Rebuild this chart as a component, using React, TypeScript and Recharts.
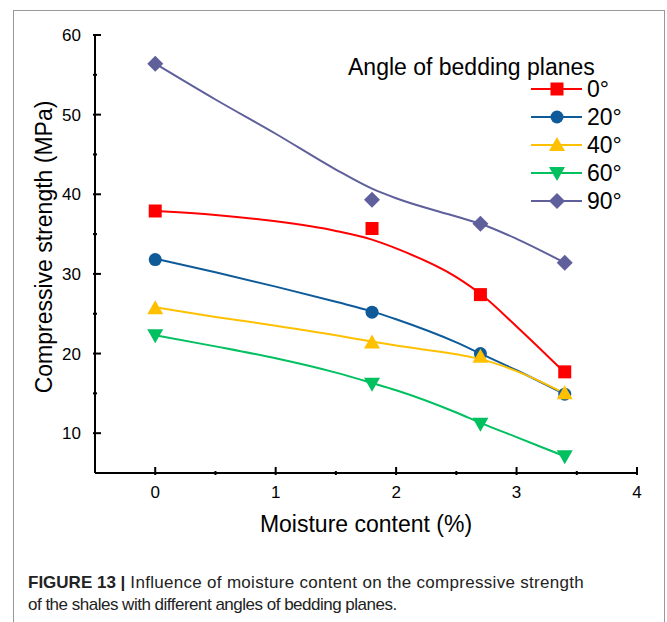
import React from 'react';
import { ComposedChart, Line, Scatter, XAxis, YAxis, Legend, Label } from 'recharts';

// measured points
const moisture = [0, 1.8, 2.7, 3.4];
const angles = ['0°', '20°', '40°', '60°', '90°'];
const strength0 = [37.9, 35.7, 27.4, 17.7];
const strength20 = [31.8, 25.2, 20.0, 14.9];
const strength40 = [25.7, 21.4, 19.6, 15.0];
const strength60 = [22.3, 16.2, 11.2, 7.1];
const strength90 = [56.4, 39.3, 36.3, 31.4];

// fitted curves
const fitX = [0, 0.5, 1, 1.5, 1.8, 2, 2.5, 2.7, 3, 3.4];
const fit0 = [37.9, 37.4, 36.6, 35.4, 34.3, 33.2, 29.6, 27.5, 23.4, 17.6];
const fit20 = [31.9, 30.2, 28.4, 26.5, 25.3, 24.3, 21.4, 20.0, 17.9, 14.9];
const fit40 = [25.8, 24.6, 23.5, 22.3, 21.5, 21.0, 19.9, 19.3, 17.8, 15.0];
const fit60 = [22.3, 20.9, 19.4, 17.6, 16.3, 15.4, 12.6, 11.3, 9.5, 7.1];
const fit90 = [56.4, 51.9, 47.6, 43.1, 40.7, 39.5, 37.2, 36.3, 34.4, 31.4];

const xTicks = [0, 0.5, 1, 1.5, 2, 2.5, 3, 3.5, 4];
const yTicks = [10, 15, 20, 25, 30, 35, 40, 45, 50, 55, 60];

const colors = ['#ff0000', '#0f5b9a', '#ffc000', '#00c060', '#5f5f9c'];
const shapes = ['square', 'circle', 'triangle', 'triangleDown', 'diamond'];

const font = '"Liberation Sans", Arial, sans-serif';

const series = [strength0, strength20, strength40, strength60, strength90].map((vals, i) => ({
  name: angles[i],
  color: colors[i],
  shape: shapes[i],
  points: moisture.map((x, j) => ({ x, y: vals[j] })),
  fit: fitX.map((x, j) => ({ x, y: [fit0, fit20, fit40, fit60, fit90][i][j] })),
}));

const Marker = ({ cx, cy, shape, color }: any) => {
  if (cx == null || cy == null) return null;
  if (shape === 'square') return <rect x={cx - 6.5} y={cy - 6.5} width={13} height={13} fill={color} />;
  if (shape === 'circle') return <circle cx={cx} cy={cy} r={6.5} fill={color} />;
  if (shape === 'triangle')
    return <polygon points={`${cx},${cy - 8} ${cx - 8},${cy + 6} ${cx + 8},${cy + 6}`} fill={color} />;
  if (shape === 'triangleDown')
    return <polygon points={`${cx},${cy + 8} ${cx - 8},${cy - 6} ${cx + 8},${cy - 6}`} fill={color} />;
  return <polygon points={`${cx},${cy - 8} ${cx + 8},${cy} ${cx},${cy + 8} ${cx - 8},${cy}`} fill={color} />;
};

const XTick = ({ x, y, payload }: any) => {
  const major = Number.isInteger(payload.value);
  return (
    <g>
      <line x1={x} y1={y} x2={x} y2={y - (major ? 8 : 4)} stroke="#000" strokeWidth={2} />
      {major && (
        <text x={x} y={y + 23} textAnchor="middle" fontSize={17} fontFamily={font} fill="#000">
          {payload.value}
        </text>
      )}
    </g>
  );
};

const YTick = ({ x, y, payload }: any) => {
  const major = payload.value % 10 === 0;
  return (
    <g>
      <line x1={x} y1={y} x2={x + (major ? 8 : 4)} y2={y} stroke="#000" strokeWidth={2} />
      {major && (
        <text x={x - 12} y={y + 6} textAnchor="end" fontSize={17} fontFamily={font} fill="#000">
          {payload.value}
        </text>
      )}
    </g>
  );
};

const LegendBox = () => (
  <svg width={300} height={170} style={{ display: 'block' }}>
    <text x={8} y={25} fontSize={23} fontFamily={font} fill="#000">
      Angle of bedding planes
    </text>
    {series.map((s, i) => {
      const cy = 39 + i * 28;
      return (
        <g key={s.name}>
          <line x1={191} y1={cy} x2={242} y2={cy} stroke={s.color} strokeWidth={2} />
          <Marker cx={217} cy={cy} shape={s.shape} color={s.color} />
          <text x={247} y={cy + 8} fontSize={23} fontFamily={font} fill="#000">
            {s.name}
          </text>
        </g>
      );
    })}
  </svg>
);

export default function App() {
  return (
    <div style={{ position: 'absolute', left: 0, top: 0, width: 667, height: 622, background: '#fff', fontFamily: font }}>
      <div
        style={{
          position: 'absolute',
          left: 13,
          top: 10,
          width: 650,
          height: 620,
          borderTop: '1px solid #999',
          borderLeft: '1px solid #999',
          borderRight: '1px solid #999',
        }}
      />
      <div style={{ position: 'absolute', left: 0, top: 0 }}>
        <ComposedChart width={667} height={545} margin={{ top: 35, right: 30, left: 0, bottom: 0 }}>
          <XAxis
            dataKey="x"
            type="number"
            domain={[-0.5, 4]}
            ticks={xTicks}
            interval={0}
            allowDataOverflow
            tickSize={0}
            tickLine={false}
            tick={<XTick />}
            height={72}
            axisLine={{ stroke: '#000', strokeWidth: 2 }}
          >
            <Label
              content={({ viewBox }: any) => (
                <text
                  x={viewBox.x + viewBox.width / 2}
                  y={532}
                  textAnchor="middle"
                  fontSize={23}
                  fontFamily={font}
                  fill="#000"
                >
                  Moisture content (%)
                </text>
              )}
            />
          </XAxis>
          <YAxis
            dataKey="y"
            type="number"
            domain={[5, 60]}
            ticks={yTicks}
            interval={0}
            allowDataOverflow
            tickSize={0}
            tickLine={false}
            tick={<YTick />}
            width={95}
            axisLine={{ stroke: '#000', strokeWidth: 2 }}
          >
            <Label
              content={() => (
                <text
                  x={52}
                  y={247}
                  transform="rotate(-90 52 247)"
                  textAnchor="middle"
                  fontSize={23}
                  fontFamily={font}
                  fill="#000"
                >
                  Compressive strength (MPa)
                </text>
              )}
            />
          </YAxis>
          <Legend
            layout="vertical"
            align="center"
            verticalAlign="middle"
            wrapperStyle={{ left: 340, top: 50, width: 300 }}
            content={() => <LegendBox />}
          />
          {series.map((s) => (
            <Line
              key={`fit-${s.name}`}
              data={s.fit}
              dataKey="y"
              type="monotone"
              stroke={s.color}
              strokeWidth={2}
              dot={false}
              activeDot={false}
              legendType="none"
              isAnimationActive={false}
            />
          ))}
          {series.map((s) => (
            <Scatter
              key={`pts-${s.name}`}
              name={s.name}
              data={s.points}
              dataKey="y"
              fill={s.color}
              shape={(p: any) => <Marker cx={p.cx} cy={p.cy} shape={s.shape} color={s.color} />}
              isAnimationActive={false}
            />
          ))}
        </ComposedChart>
      </div>
      <div
        style={{
          position: 'absolute',
          left: 28,
          top: 572,
          fontSize: 17,
          lineHeight: '22px',
          color: '#222',
          whiteSpace: 'nowrap',
        }}
      >
        <div style={{ letterSpacing: 0.3 }}>
          <b style={{ letterSpacing: 0 }}>FIGURE 13 |</b> Influence of moisture content on the compressive strength
        </div>
        <div style={{ letterSpacing: -0.5 }}>of the shales with different angles of bedding planes.</div>
      </div>
    </div>
  );
}
